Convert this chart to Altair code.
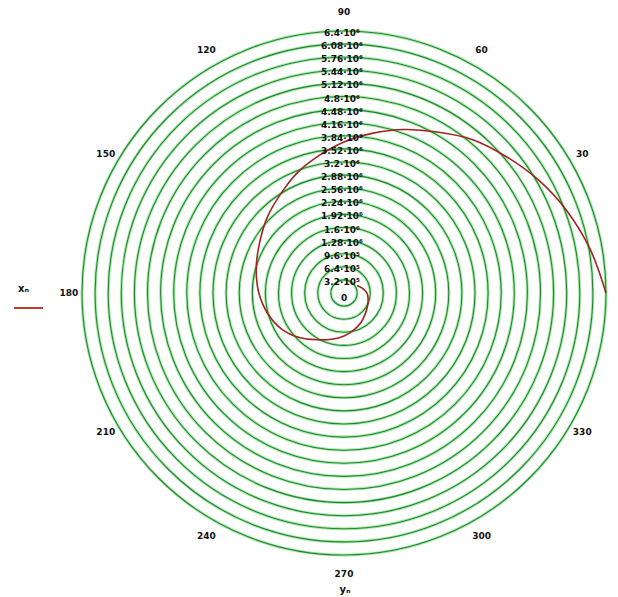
import math
import altair as alt
import pandas as pd

# ---- data ----
# radial rings (values in millions) and their labels
ring_values = [0.32, 0.64, 0.96, 1.28, 1.60, 1.92, 2.24, 2.56, 2.88, 3.20,
               3.52, 3.84, 4.16, 4.48, 4.80, 5.12, 5.44, 5.76, 6.08, 6.40]
ring_labels = ["3.2·10⁵", "6.4·10⁵", "9.6·10⁵", "1.28·10⁶", "1.6·10⁶",
               "1.92·10⁶", "2.24·10⁶", "2.56·10⁶", "2.88·10⁶", "3.2·10⁶",
               "3.52·10⁶", "3.84·10⁶", "4.16·10⁶", "4.48·10⁶", "4.8·10⁶",
               "5.12·10⁶", "5.44·10⁶", "5.76·10⁶", "6.08·10⁶", "6.4·10⁶"]
# angular tick labels (degrees)
angle_ticks = [30, 60, 90, 120, 150, 180, 210, 240, 270, 300, 330]
# spiral: angle y_n (degrees) and radius x_n (millions)
spiral_theta = [0, 10, 20, 30, 40, 50, 60, 70, 80, 90, 100, 110, 120, 135,
                150, 165, 180, 195, 210, 225, 240, 255, 270, 285, 300, 315,
                330, 345, 360, 375, 390]
spiral_r = [6.40, 6.11, 5.81, 5.50, 5.18, 4.89, 4.54, 4.25, 3.96, 3.69, 3.42,
            3.18, 2.93, 2.64, 2.39, 2.22, 2.08, 1.93, 1.76, 1.54, 1.32, 1.17,
            1.05, 0.93, 0.83, 0.73, 0.66, 0.61, 0.56, 0.46, 0.37]

rings_df = pd.DataFrame({"r": ring_values, "label": ring_labels})
zero_df = pd.DataFrame({"r": [0.0], "label": ["0"]})
angles_df = pd.DataFrame({"deg": angle_ticks, "label": [str(a) for a in angle_ticks]})
spiral_df = pd.DataFrame({"i": list(range(len(spiral_r))), "theta": spiral_theta, "r": spiral_r})

W, H = 602, 573
PX = 262 / 6.4  # pixels per million
CX, CY = 336, 285
xs = alt.Scale(domain=[-CX / PX, (W - CX) / PX], nice=False, zero=False)
ys = alt.Scale(domain=[-(H - CY) / PX, CY / PX], nice=False, zero=False)
rs = alt.Scale(type="linear", domain=[0, 6.4], range=[0, 262], zero=True, nice=False)

X0 = alt.XDatum(0, scale=xs, axis=None)
Y0 = alt.YDatum(0, scale=ys, axis=None)

halo = alt.Chart(rings_df).mark_arc(
    theta=0, theta2=math.tau, fillOpacity=0, stroke="#a6ecaa", strokeWidth=3
).encode(x=X0, y=Y0, radius=alt.Radius("r:Q", scale=rs, stack=None))

core = alt.Chart(rings_df).mark_arc(
    theta=0, theta2=math.tau, fillOpacity=0, stroke="#2a8236", strokeWidth=1.1
).encode(x=X0, y=Y0, radius=alt.Radius("r:Q", scale=rs, stack=None))

spiral = alt.Chart(spiral_df).transform_calculate(
    px="datum.r * cos(datum.theta * PI / 180)",
    py="datum.r * sin(datum.theta * PI / 180)",
).mark_line(color="#a32222", strokeWidth=1.6, interpolate="catmull-rom").encode(
    x=alt.X("px:Q", scale=xs, axis=None),
    y=alt.Y("py:Q", scale=ys, axis=None),
    order="i:Q",
)

rlabels = alt.Chart(rings_df).mark_text(
    font="DejaVu Sans", fontSize=9, fontWeight="bold", color="#111111", dx=-2, dy=2
).encode(
    x=alt.XDatum(0, scale=xs, axis=None),
    y=alt.Y("r:Q", scale=ys, axis=None),
    text="label:N",
)

zlabel = alt.Chart(zero_df).mark_text(
    font="DejaVu Sans", fontSize=9, fontWeight="bold", color="#111111", dy=5
).encode(
    x=alt.XDatum(0, scale=xs, axis=None),
    y=alt.Y("r:Q", scale=ys, axis=None),
    text="label:N",
)

alabels = alt.Chart(angles_df).transform_calculate(
    px="6.72 * cos(datum.deg * PI / 180)",
    py="(6.72 + 0.15 * abs(sin(datum.deg * PI / 180))) * sin(datum.deg * PI / 180)",
).mark_text(font="DejaVu Sans", fontSize=9, fontWeight="bold", color="#111111").encode(
    x=alt.X("px:Q", scale=xs, axis=None),
    y=alt.Y("py:Q", scale=ys, axis=None),
    text="label:N",
)

legend_text = alt.Chart(pd.DataFrame({"t": ["xₙ"]})).mark_text(
    font="DejaVu Sans", fontSize=10, fontWeight="bold", color="#111111", align="left"
).encode(x=alt.value(10), y=alt.value(281), text="t:N")

legend_line = alt.Chart(pd.DataFrame({"t": [1]})).mark_rule(
    color="#c0392b", strokeWidth=2
).encode(x=alt.value(6), x2=alt.value(35), y=alt.value(300))

ytitle = alt.Chart(pd.DataFrame({"t": ["yₙ"]})).mark_text(
    font="DejaVu Sans", fontSize=10, fontWeight="bold", color="#111111"
).encode(x=alt.value(337), y=alt.value(582), text="t:N")

chart = alt.layer(
    halo, core, spiral, rlabels, zlabel, alabels, legend_text, legend_line, ytitle
).properties(
    width=W, height=H,
    autosize=alt.AutoSizeParams(type="none"),
    padding={"left": 0, "top": 0, "right": 0, "bottom": 16},
).configure_view(stroke=None)

chart.save("out.html", embed_options={"renderer": "svg", "actions": False})
